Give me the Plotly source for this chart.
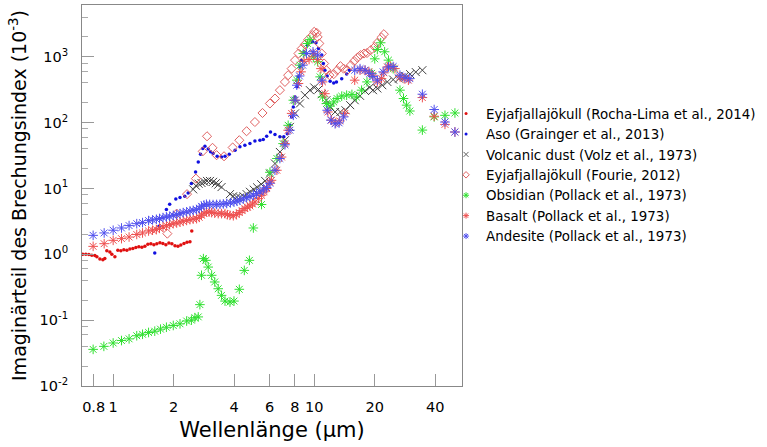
import plotly.graph_objects as go

# ---- data (wavelength in µm, imaginary index in 1e-3) ----
rocha_wl = [0.706, 0.731, 0.757, 0.783, 0.811, 0.830, 0.859, 0.889, 0.909, 0.930, 0.963, 0.985,
            1.02, 1.055, 1.092, 1.130, 1.17, 1.211, 1.253, 1.297, 1.342, 1.389, 1.438, 1.488,
            1.540, 1.594, 1.649, 1.708, 1.767, 1.829, 1.893, 1.959, 2.03, 2.10, 2.17, 2.25,
            2.33, 2.41, 2.46]
rocha_k = [1.0, 1.0, 0.99, 0.97, 0.96, 0.92, 0.85, 0.83, 0.86, 1.13, 1.08, 1.0,
           0.92, 1.15, 1.13, 1.17, 1.15, 1.2, 1.22, 1.27, 1.30, 1.28, 1.33, 1.42,
           1.45, 1.40, 1.45, 1.50, 1.46, 1.40, 1.48, 1.44, 1.35, 1.33, 1.38, 1.46,
           1.52, 1.55, 2.25]

aso_wl = [1.61, 1.69, 1.84, 1.91, 2.05, 2.15, 2.27, 2.36, 2.45, 2.57, 2.65, 2.72, 2.79, 2.86,
          2.97, 3.05, 3.14, 3.29, 3.46, 3.60, 3.78, 4.04, 4.27, 4.52, 4.79, 5.07, 5.37, 5.58,
          5.8, 6.06, 6.38, 6.75, 7.06, 7.35, 7.57, 7.72, 7.87, 8.03, 8.19, 8.35, 8.49, 8.66,
          8.9, 9.25, 9.8, 10.2, 10.5, 10.9, 11.1, 11.3, 11.6, 12.0, 12.5, 12.9, 13.7, 14.5, 14.97]
aso_k = [1.05, 2.66, 4.77, 5.75, 6.9, 7.3, 7.6, 8.5, 11.9, 17.8, 25.3, 33, 40.4, 43.7,
         39.6, 36, 34, 30.8, 30, 30.8, 33, 38, 42.8, 45.2, 48, 52.7, 54, 55.5,
         62, 72, 66, 61, 61, 68, 91, 122, 172, 245, 350, 495, 700, 888,
         1190, 1500, 1690, 1630, 1340, 1060, 790, 625, 510, 425, 400, 415, 465, 545, 625]

volz_wl = [2.50, 2.58, 2.66, 2.75, 2.84, 2.93, 3.03, 3.14, 3.24, 3.33, 3.46, 3.81, 3.95, 4.11,
           4.27, 4.45, 4.61, 4.79, 5.0, 5.2, 5.45, 5.7, 6.02, 6.38, 6.75, 7.15, 7.57, 8.03,
           8.49, 8.99, 9.52, 10.0, 10.5, 10.9, 11.5, 12.0, 12.7, 13.5, 14.3, 15.1, 15.9, 16.9,
           17.9, 18.9, 19.6, 20.6, 21.8, 23.1, 24.7, 26.4, 28.2, 30.0, 32.0, 34.5]
volz_k = [9.7, 11.0, 11.8, 12.1, 12.6, 13.0, 13.0, 12.6, 12.0, 11.4, 10.5, 8.2, 7.6, 7.4,
          7.3, 7.6, 8.2, 8.9, 9.6, 10.4, 11.6, 13.0, 16.8, 23.9, 35.8, 54, 86, 138,
          195, 261, 311, 342, 318, 270, 219, 172, 145, 145, 154, 184, 219, 255,
          302, 342, 311, 330, 370, 415, 450, 465, 510, 545, 585, 625]

fourie_wl = [1.86, 2.07, 2.33, 2.58, 2.79, 2.93, 3.12, 3.27, 3.56, 3.93, 4.24, 4.61, 5.07, 5.53,
             6.02, 6.38, 6.75, 7.15, 7.42, 7.72, 8.03, 8.35, 8.66, 8.99, 9.33, 9.82, 10.0, 10.3,
             10.4, 10.6, 10.9, 11.2, 11.5, 11.9, 12.5, 13.0, 13.5, 14.0, 14.6, 15.2, 15.8, 16.4,
             17.0, 17.7, 18.3, 19.1, 20.0, 20.6, 21.6, 22.2]
fourie_k = [2.06, 4.15, 8.2, 14.1, 36.6, 62, 41.4, 32, 30.8, 41.9, 54, 74, 102, 140,
            195, 232, 311, 415, 525, 660, 888, 1120, 1330, 1540, 1820, 2130, 2390, 2300,
            2000, 1590, 1120, 790, 625, 525, 545, 625, 720, 660, 625, 745, 860, 970,
            1060, 1120, 1140, 1260, 1410, 1630, 1960, 2200]

obs_wl = [0.795, 0.899, 1.0, 1.10, 1.20, 1.31, 1.40, 1.50, 1.61, 1.72, 1.84, 1.99, 2.15, 2.32,
          2.45, 2.55, 2.65, 2.70, 2.75, 2.81, 2.89, 2.97, 3.09, 3.20, 3.33, 3.46, 3.60, 3.81,
          3.99, 4.24, 4.49, 4.76, 4.98, 5.47, 6.02, 6.52, 7.0, 7.42, 7.87, 8.19, 8.49, 8.82,
          9.25, 9.52, 9.9, 10.4, 10.7, 11.0, 11.5, 12.0, 12.5, 13.0, 13.7, 14.5, 15.4, 16.2,
          17.2, 18.3, 19.3, 20.0, 20.6, 21.4, 22.4, 23.4, 24.7, 26.7, 27.8, 28.8, 29.9, 34.5,
          39.5, 44.7, 50.1]
obs_k = [0.036, 0.040, 0.045, 0.049, 0.052, 0.058, 0.061, 0.065, 0.068, 0.073, 0.078, 0.083, 0.088, 0.097,
         0.100, 0.109, 0.112, 0.172, 0.48, 0.86, 0.81, 0.64, 0.48, 0.38, 0.30, 0.238, 0.195, 0.188,
         0.195, 0.294, 0.57, 0.81, 2.51, 5.7, 17.6, 28.5, 48, 91, 219, 441, 745, 1120,
         1590, 1820, 1000, 840, 495, 245, 195, 178, 206, 232, 252, 261, 268, 245,
         311, 415, 560, 930, 1290, 1630, 1190, 888, 660, 311, 232, 184, 150, 77,
         122, 129, 140]

bas_wl = [0.795, 0.902, 1.0, 1.10, 1.20, 1.31, 1.40, 1.50, 1.57, 1.64, 1.70, 1.77, 1.84, 1.91,
          1.99, 2.07, 2.15, 2.23, 2.32, 2.41, 2.50, 2.60, 2.68, 2.75, 2.83, 2.91, 3.00, 3.09,
          3.20, 3.33, 3.46, 3.60, 3.70, 3.81, 3.96, 4.10, 4.24, 4.38, 4.52, 4.65, 4.79, 4.93,
          5.07, 5.27, 5.47, 5.63, 5.8, 6.02, 6.13, 6.52, 6.88, 7.15, 7.42, 7.72, 8.03, 8.35,
          8.6, 8.9, 9.43, 9.9, 10.4, 10.8, 11.0, 11.3, 11.7, 12.2, 12.8, 13.4, 14.2, 15.9,
          16.9, 17.9, 18.7, 19.5, 20.6, 21.6, 22.2, 23.1, 23.9, 25.2, 26.7, 28.0, 29.4, 34.5,
          39.5, 44.7, 50.1]
bas_k = [1.32, 1.45, 1.63, 1.73, 1.83, 2.0, 2.11, 2.26, 2.32, 2.37, 2.48, 2.6, 2.72, 2.83,
         2.92, 2.99, 3.08, 3.17, 3.27, 3.37, 3.42, 3.48, 3.65, 3.91, 4.2, 4.39, 4.38, 4.30,
         4.22, 4.15, 4.15, 4.15, 4.0, 3.91, 3.85, 4.0, 4.30, 4.6, 4.95, 5.2, 5.42, 5.8,
         6.23, 7.0, 7.88, 8.9, 9.97, 12.5, 13.3, 18.9, 30, 48, 76.6, 138, 219, 393,
         590, 855, 910, 1120, 910, 660, 415, 275, 145, 109, 99, 106, 138, 441,
         625, 625, 590, 525, 415, 465, 570, 700, 720, 660, 495, 465, 441, 240,
         125, 94, 72]

and_wl = [0.795, 0.902, 1.0, 1.10, 1.20, 1.31, 1.40, 1.50, 1.57, 1.64, 1.70, 1.77, 1.84, 1.91,
          1.99, 2.07, 2.15, 2.23, 2.32, 2.41, 2.50, 2.60, 2.68, 2.75, 2.83, 2.91, 3.02, 3.14,
          3.27, 3.40, 3.53, 3.67, 3.83, 3.99, 4.13, 4.27, 4.44, 4.61, 4.79, 4.98, 5.17, 5.37,
          5.58, 5.8, 6.02, 6.38, 6.75, 7.15, 7.57, 7.87, 8.03, 8.19, 8.45, 8.77, 9.16, 9.86,
          10.4, 10.9, 11.6, 12.1, 12.7, 13.3, 14.0, 15.9, 16.9, 17.9, 18.9, 19.6, 20.6, 22.0,
          23.4, 24.7, 26.7, 28.3, 29.9, 34.5, 39.5, 44.7, 50.1]
and_k = [1.94, 2.11, 2.32, 2.51, 2.73, 2.92, 3.03, 3.25, 3.33, 3.40, 3.5, 3.61, 3.7, 3.78,
         3.9, 4.01, 4.15, 4.30, 4.42, 4.55, 4.65, 4.77, 5.0, 5.36, 5.6, 5.75, 5.72, 5.69,
         5.72, 5.75, 5.82, 5.90, 6.05, 6.22, 6.4, 6.62, 6.95, 7.28, 7.55, 7.88, 8.35, 8.85,
         9.5, 10.3, 12.0, 18.9, 28.5, 46, 76.6, 129, 219, 370, 510, 745, 1120, 1190,
         1060, 441, 154, 109, 96, 99, 122, 625, 660, 625, 560, 500, 441, 590,
         700, 710, 525, 480, 465, 270, 158, 102, 72]

x_ticks = [0.8, 1, 2, 4, 6, 8, 10, 20, 40]
x_ticktext = ["0.8", "1", "2", "4", "6", "8", "10", "20", "40"]
y_ticks = [0.01, 0.1, 1, 10, 100, 1000]
y_ticktext = ["10<sup>-2</sup>", "10<sup>-1</sup>", "10<sup>0</sup>", "10<sup>1</sup>",
              "10<sup>2</sup>", "10<sup>3</sup>"]
y_minor = [m * 10 ** e for e in range(-2, 4) for m in (2, 4, 6, 8)]

# (name, x, y, plot marker, legend marker)
series = [
    ("Eyjafjallajökull (Rocha-Lima et al., 2014)", rocha_wl, rocha_k,
     dict(symbol="circle", size=3.5, color="#e01010", line=dict(width=0)),
     dict(symbol="circle", size=3, color="#e01010", line=dict(width=0))),
    ("Aso (Grainger et al., 2013)", aso_wl, aso_k,
     dict(symbol="circle", size=3.5, color="#1010e0", line=dict(width=0)),
     dict(symbol="circle", size=3, color="#1010e0", line=dict(width=0))),
    ("Volcanic dust (Volz et al., 1973)", volz_wl, volz_k,
     dict(symbol="x-thin-open", size=8, color="#404040", line=dict(width=1, color="#404040")),
     dict(symbol="x-thin-open", size=5, color="#606060", line=dict(width=1, color="#606060"))),
    ("Eyjafjallajökull (Fourie, 2012)", fourie_wl, fourie_k,
     dict(symbol="diamond-open", size=7, color="#e06060", line=dict(width=1, color="#e06060")),
     dict(symbol="diamond-open", size=5, color="#e06060", line=dict(width=1, color="#e06060"))),
    ("Obsidian (Pollack et al., 1973)", obs_wl, obs_k,
     dict(symbol="asterisk-open", size=8, color="#30e030", line=dict(width=1, color="#30e030")),
     dict(symbol="asterisk-open", size=5, color="#30e030", line=dict(width=1, color="#30e030"))),
    ("Basalt (Pollack et al., 1973)", bas_wl, bas_k,
     dict(symbol="asterisk-open", size=8, color="#ee5050", line=dict(width=1, color="#ee5050")),
     dict(symbol="asterisk-open", size=5, color="#ee5050", line=dict(width=1, color="#ee5050"))),
    ("Andesite (Pollack et al., 1973)", and_wl, and_k,
     dict(symbol="asterisk-open", size=8, color="#5050ee", line=dict(width=1, color="#5050ee")),
     dict(symbol="asterisk-open", size=5, color="#5050ee", line=dict(width=1, color="#5050ee"))),
]

fig = go.Figure()
for name, xs, ys, mk, lmk in series:
    fig.add_trace(go.Scatter(x=xs, y=ys, mode="markers", name=name, marker=mk,
                             legendgroup=name, showlegend=False))
for name, xs, ys, mk, lmk in series:
    fig.add_trace(go.Scatter(x=[None], y=[None], mode="markers", name=name, marker=lmk,
                             legendgroup=name, showlegend=True))

FONT = "DejaVu Sans, Liberation Sans, Arial, sans-serif"
fig.update_layout(
    width=767, height=447,
    margin=dict(l=82, r=305, t=5, b=61),
    paper_bgcolor="white", plot_bgcolor="white",
    font=dict(family=FONT, color="#000", size=14),
    showlegend=True,
    legend=dict(x=0.958, xanchor="left", y=0.755, yanchor="top",
                font=dict(size=13.4, family=FONT, color="#000"),
                bgcolor="rgba(0,0,0,0)", itemsizing="trace", tracegroupgap=0,
                borderwidth=0),
)
fig.update_xaxes(
    type="log", range=[-0.155, 1.735],
    tickvals=x_ticks, ticktext=x_ticktext,
    ticks="inside", ticklen=12, tickcolor="#999", tickwidth=1,
    showline=True, linecolor="#888", linewidth=1, mirror=True,
    showgrid=False, zeroline=False,
    tickfont=dict(size=14.5), ticklabelstandoff=8,
    title=dict(text="Wellenlänge (µm)", font=dict(size=21), standoff=7),
)
fig.update_yaxes(
    type="log", range=[-2, 3.786],
    tickvals=y_ticks, ticktext=y_ticktext,
    ticks="inside", ticklen=12, tickcolor="#999", tickwidth=1,
    minor=dict(tickvals=y_minor, ticks="inside", ticklen=6, tickcolor="#aaa"),
    showline=True, linecolor="#888", linewidth=1, mirror=True,
    showgrid=False, zeroline=False,
    tickfont=dict(size=14.5), ticklabelstandoff=10,
    title=dict(text="Imaginärteil des Brechungsindex (10<sup>-3</sup>)", font=dict(size=19), standoff=7),
)

fig.write_html("out.html")
